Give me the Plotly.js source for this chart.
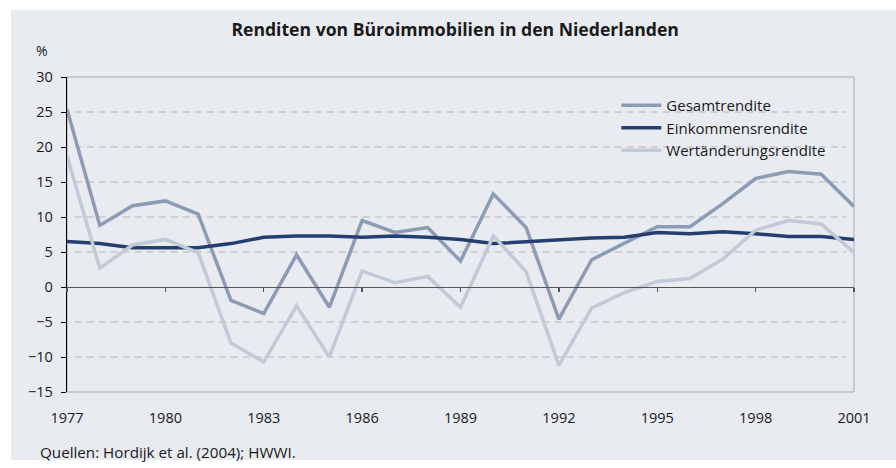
<!DOCTYPE html>
<html><head><meta charset="utf-8">
<script src="https://cdn.plot.ly/plotly-3.0.1.min.js"></script>
<style>html,body{margin:0;padding:0;background:#fff;}#chart{width:896px;height:468px;}</style>
</head><body><div id="chart"></div>
<script>
const years = [1977,1978,1979,1980,1981,1982,1983,1984,1985,1986,1987,1988,1989,1990,1991,1992,1993,1994,1995,1996,1997,1998,1999,2000,2001];
const gesamtrendite = [25.4,8.8,11.6,12.3,10.4,-1.9,-3.8,4.6,-2.9,9.5,7.8,8.5,3.7,13.3,8.5,-4.6,3.9,6.3,8.6,8.6,11.9,15.5,16.5,16.1,11.5];
const einkommensrendite = [6.5,6.2,5.6,5.6,5.6,6.2,7.1,7.3,7.3,7.1,7.3,7.1,6.8,6.2,6.5,6.7,7.0,7.1,7.8,7.6,7.9,7.6,7.2,7.2,6.8];
const wertaenderungsrendite = [18.7,2.7,6.0,6.8,4.9,-8.0,-10.7,-2.7,-10.0,2.3,0.6,1.5,-2.9,7.3,2.2,-11.2,-3.0,-0.8,0.8,1.2,4.0,8.1,9.5,9.0,4.9];
const seriesNames = ['Gesamtrendite','Einkommensrendite','Wertänderungsrendite'];
const yTicks = [-15,-10,-5,0,5,10,15,20,25,30];
const xTicks = [1977,1980,1983,1986,1989,1992,1995,1998,2001];

const FONT = 'Open Sans, Noto Sans, sans-serif';
const traces = [
  {x: years, y: gesamtrendite, name: seriesNames[0], type:'scatter', mode:'lines', line:{color:'#8e9bb4', width:3.5}},
  {x: years, y: einkommensrendite, name: seriesNames[1], type:'scatter', mode:'lines', line:{color:'#243f6f', width:3.5}},
  {x: years, y: wertaenderungsrendite, name: seriesNames[2], type:'scatter', mode:'lines', line:{color:'#c2c9d7', width:3.5}},
  {x: years, y: einkommensrendite, xaxis:'x2', type:'scatter', mode:'lines', showlegend:false, hoverinfo:'skip', line:{color:'rgba(0,0,0,0)', width:0}}
];
const gridShapes = yTicks.filter(v => v !== 0 && v !== 30 && v !== -15).map(v => ({
  type:'line', xref:'paper', yref:'y', x0:0.01, x1:0.99, y0:v, y1:v, layer:'below',
  line:{color:'#b4b6b8', width:1, dash:'7px,5px'}
}));
const layout = {
  width:896, height:468,
  paper_bgcolor:'#ffffff', plot_bgcolor:'rgba(0,0,0,0)',
  margin:{l:67, r:42, t:77, b:76},
  font:{family:FONT, size:14.5, color:'#1a1a1a'},
  title:{text:'<b>Renditen von Büroimmobilien in den Niederlanden</b>', font:{family:FONT, size:17.6, color:'#1a1a1a'}, x:0.508, xanchor:'center', y:0.936, yanchor:'middle'},
  showlegend:true,
  legend:{x:0.698, xanchor:'left', y:0.962, yanchor:'top', bgcolor:'rgba(0,0,0,0)', itemwidth:40, font:{family:FONT, size:15, color:'#1a1a1a'}, tracegroupgap:0},
  xaxis:{range:[1977,2001], tickvals:xTicks, ticktext:xTicks.map(String), showgrid:false, zeroline:false, showline:false, ticks:'', ticklabelstandoff:15, tickfont:{size:14.5}, fixedrange:true},
  xaxis2:{range:[1977,2001], overlaying:'x', anchor:'free', position:1/3, tickvals:xTicks, showticklabels:false, showgrid:false, zeroline:false, showline:true, linecolor:'#555555', linewidth:1.3, ticks:'outside', ticklen:4, tickcolor:'#555555', tickwidth:1.3, side:'bottom'},
  yaxis:{range:[-15,30], tickvals:yTicks, showgrid:false, zeroline:false, showline:true, linecolor:'#000000', linewidth:1.3, ticks:'outside', ticklen:5, tickcolor:'#000000', ticklabelstandoff:5, tickfont:{size:14.5}, fixedrange:true},
  shapes:[
    {type:'rect', xref:'paper', yref:'paper', x0:-0.0712, x1:1.06, y0:-0.2159, y1:1.2127, layer:'below', fillcolor:'#e8ebf0', line:{width:0}},
    {type:'rect', xref:'paper', yref:'paper', x0:0, x1:1, y0:0, y1:1, layer:'below', fillcolor:'rgba(0,0,0,0)', line:{color:'#a8aaad', width:1}}
  ].concat(gridShapes),
  annotations:[
    {text:'%', xref:'paper', yref:'paper', x:-0.032, y:1.085, xanchor:'center', yanchor:'middle', showarrow:false, font:{family:FONT, size:14, color:'#1a1a1a'}},
    {text:'Quellen: Hordijk et al. (2004); HWWI.', xref:'paper', yref:'paper', x:-0.037, y:-0.19, xanchor:'left', yanchor:'middle', showarrow:false, font:{family:FONT, size:15.2, color:'#1a1a1a'}}
  ]
};
Plotly.newPlot('chart', traces, layout, {displayModeBar:false, staticPlot:true});
</script></body></html>
